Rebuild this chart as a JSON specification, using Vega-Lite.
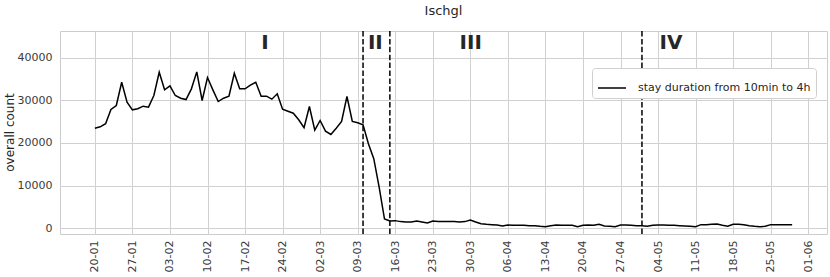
{
  "$schema": "https://vega.github.io/schema/vega-lite/v6.json",
  "width": 767,
  "height": 203,
  "autosize": {"type": "none"},
  "padding": {"left": 60, "top": 31, "right": 3, "bottom": 43},
  "background": "white",
  "title": {"text": "Ischgl", "fontSize": 13, "font": "DejaVu Sans", "fontWeight": "normal", "color": "#262626", "anchor": "middle", "offset": 12},
  "config": {
    "view": {"stroke": "#cccccc", "strokeWidth": 1},
    "axis": {"gridColor": "#d0d0d0", "gridWidth": 1, "domain": false, "ticks": false, "labelFont": "DejaVu Sans", "labelFontSize": 11, "labelColor": "#3a3a3a", "titleFont": "DejaVu Sans", "titleFontSize": 12, "titleFontWeight": "normal", "titleColor": "#262626"}
  },
  "datasets": {
    "series": [
      {"date": "2020-01-20", "count": 23460}, {"date": "2020-01-21", "count": 23780}, {"date": "2020-01-22", "count": 24490},
      {"date": "2020-01-23", "count": 27830}, {"date": "2020-01-24", "count": 28770}, {"date": "2020-01-25", "count": 34220},
      {"date": "2020-01-26", "count": 29540}, {"date": "2020-01-27", "count": 27760}, {"date": "2020-01-28", "count": 28000},
      {"date": "2020-01-29", "count": 28610}, {"date": "2020-01-30", "count": 28380}, {"date": "2020-01-31", "count": 31110},
      {"date": "2020-02-01", "count": 36560}, {"date": "2020-02-02", "count": 32440}, {"date": "2020-02-03", "count": 33370},
      {"date": "2020-02-04", "count": 31110}, {"date": "2020-02-05", "count": 30480}, {"date": "2020-02-06", "count": 30170},
      {"date": "2020-02-07", "count": 32670}, {"date": "2020-02-08", "count": 36650}, {"date": "2020-02-09", "count": 29940},
      {"date": "2020-02-10", "count": 35320}, {"date": "2020-02-11", "count": 32440}, {"date": "2020-02-12", "count": 29700},
      {"date": "2020-02-13", "count": 30480}, {"date": "2020-02-14", "count": 30950}, {"date": "2020-02-15", "count": 36330},
      {"date": "2020-02-16", "count": 32670}, {"date": "2020-02-17", "count": 32670}, {"date": "2020-02-18", "count": 33530},
      {"date": "2020-02-19", "count": 34220}, {"date": "2020-02-20", "count": 30950}, {"date": "2020-02-21", "count": 30950},
      {"date": "2020-02-22", "count": 30250}, {"date": "2020-02-23", "count": 31500}, {"date": "2020-02-24", "count": 27910},
      {"date": "2020-02-25", "count": 27440}, {"date": "2020-02-26", "count": 26970}, {"date": "2020-02-27", "count": 25420},
      {"date": "2020-02-28", "count": 23550}, {"date": "2020-02-29", "count": 28540}, {"date": "2020-03-01", "count": 22990},
      {"date": "2020-03-02", "count": 25260}, {"date": "2020-03-03", "count": 22760}, {"date": "2020-03-04", "count": 21990},
      {"date": "2020-03-05", "count": 23460}, {"date": "2020-03-06", "count": 25030}, {"date": "2020-03-07", "count": 30870},
      {"date": "2020-03-08", "count": 25030}, {"date": "2020-03-09", "count": 24720}, {"date": "2020-03-10", "count": 24250},
      {"date": "2020-03-11", "count": 19800}, {"date": "2020-03-12", "count": 16300}, {"date": "2020-03-13", "count": 9660},
      {"date": "2020-03-14", "count": 2180}, {"date": "2020-03-15", "count": 1710}, {"date": "2020-03-16", "count": 1800},
      {"date": "2020-03-17", "count": 1570}, {"date": "2020-03-18", "count": 1500}, {"date": "2020-03-19", "count": 1500},
      {"date": "2020-03-20", "count": 1710}, {"date": "2020-03-21", "count": 1500}, {"date": "2020-03-22", "count": 1240},
      {"date": "2020-03-23", "count": 1710}, {"date": "2020-03-24", "count": 1570}, {"date": "2020-03-25", "count": 1570},
      {"date": "2020-03-26", "count": 1570}, {"date": "2020-03-27", "count": 1570}, {"date": "2020-03-28", "count": 1500},
      {"date": "2020-03-29", "count": 1570}, {"date": "2020-03-30", "count": 1950}, {"date": "2020-03-31", "count": 1500},
      {"date": "2020-04-01", "count": 1090}, {"date": "2020-04-02", "count": 930}, {"date": "2020-04-03", "count": 860},
      {"date": "2020-04-04", "count": 780}, {"date": "2020-04-05", "count": 550}, {"date": "2020-04-06", "count": 780},
      {"date": "2020-04-07", "count": 700}, {"date": "2020-04-08", "count": 700}, {"date": "2020-04-09", "count": 700},
      {"date": "2020-04-10", "count": 620}, {"date": "2020-04-11", "count": 620}, {"date": "2020-04-12", "count": 470},
      {"date": "2020-04-13", "count": 390}, {"date": "2020-04-14", "count": 620}, {"date": "2020-04-15", "count": 780},
      {"date": "2020-04-16", "count": 700}, {"date": "2020-04-17", "count": 700}, {"date": "2020-04-18", "count": 700},
      {"date": "2020-04-19", "count": 390}, {"date": "2020-04-20", "count": 700}, {"date": "2020-04-21", "count": 780},
      {"date": "2020-04-22", "count": 700}, {"date": "2020-04-23", "count": 930}, {"date": "2020-04-24", "count": 550},
      {"date": "2020-04-25", "count": 470}, {"date": "2020-04-26", "count": 390}, {"date": "2020-04-27", "count": 780},
      {"date": "2020-04-28", "count": 780}, {"date": "2020-04-29", "count": 700}, {"date": "2020-04-30", "count": 620},
      {"date": "2020-05-01", "count": 620}, {"date": "2020-05-02", "count": 470}, {"date": "2020-05-03", "count": 700},
      {"date": "2020-05-04", "count": 780}, {"date": "2020-05-05", "count": 780}, {"date": "2020-05-06", "count": 700},
      {"date": "2020-05-07", "count": 700}, {"date": "2020-05-08", "count": 620}, {"date": "2020-05-09", "count": 550},
      {"date": "2020-05-10", "count": 470}, {"date": "2020-05-11", "count": 390}, {"date": "2020-05-12", "count": 860},
      {"date": "2020-05-13", "count": 860}, {"date": "2020-05-14", "count": 930}, {"date": "2020-05-15", "count": 1010},
      {"date": "2020-05-16", "count": 700}, {"date": "2020-05-17", "count": 470}, {"date": "2020-05-18", "count": 930},
      {"date": "2020-05-19", "count": 930}, {"date": "2020-05-20", "count": 860}, {"date": "2020-05-21", "count": 620},
      {"date": "2020-05-22", "count": 470}, {"date": "2020-05-23", "count": 390}, {"date": "2020-05-24", "count": 470},
      {"date": "2020-05-25", "count": 860}, {"date": "2020-05-26", "count": 860}, {"date": "2020-05-27", "count": 860},
      {"date": "2020-05-28", "count": 860}, {"date": "2020-05-29", "count": 860}
    ],
    "phases": [
      {"date": "2020-03-10"}, {"date": "2020-03-15"}, {"date": "2020-05-01"}
    ],
    "labels": [
      {"date": "2020-02-20T17:00:00Z", "label": "I", "y": 43350},
      {"date": "2020-03-12T07:00:00Z", "label": "II", "y": 43350},
      {"date": "2020-03-30T02:00:00Z", "label": "III", "y": 43350},
      {"date": "2020-05-06T10:00:00Z", "label": "IV", "y": 43350}
    ]
  },
  "encoding": {
    "x": {
      "field": "date", "type": "temporal", "title": null,
      "scale": {"type": "utc", "domain": [{"year": 2020, "month": 1, "date": 13, "hours": 12, "utc": true}, {"year": 2020, "month": 6, "date": 4, "hours": 12, "utc": true}]},
      "axis": {
        "format": "%d-%m", "labelAngle": -90, "labelPadding": 6, "labelBaseline": "middle", "labelAlign": "right",
        "values": [
          {"year": 2020, "month": 1, "date": 20, "utc": true}, {"year": 2020, "month": 1, "date": 27, "utc": true},
          {"year": 2020, "month": 2, "date": 3, "utc": true}, {"year": 2020, "month": 2, "date": 10, "utc": true},
          {"year": 2020, "month": 2, "date": 17, "utc": true}, {"year": 2020, "month": 2, "date": 24, "utc": true},
          {"year": 2020, "month": 3, "date": 2, "utc": true}, {"year": 2020, "month": 3, "date": 9, "utc": true},
          {"year": 2020, "month": 3, "date": 16, "utc": true}, {"year": 2020, "month": 3, "date": 23, "utc": true},
          {"year": 2020, "month": 3, "date": 30, "utc": true}, {"year": 2020, "month": 4, "date": 6, "utc": true},
          {"year": 2020, "month": 4, "date": 13, "utc": true}, {"year": 2020, "month": 4, "date": 20, "utc": true},
          {"year": 2020, "month": 4, "date": 27, "utc": true}, {"year": 2020, "month": 5, "date": 4, "utc": true},
          {"year": 2020, "month": 5, "date": 11, "utc": true}, {"year": 2020, "month": 5, "date": 18, "utc": true},
          {"year": 2020, "month": 5, "date": 25, "utc": true}, {"year": 2020, "month": 6, "date": 1, "utc": true}
        ]
      }
    }
  },
  "layer": [
    {
      "data": {"name": "series"},
      "transform": [{"calculate": "'stay duration from 10min to 4h'", "as": "series"}],
      "mark": {"type": "line", "strokeWidth": 1.5, "clip": true},
      "encoding": {
        "y": {
          "field": "count", "type": "quantitative", "title": "overall count",
          "scale": {"domain": [-1330, 46220], "nice": false, "zero": false},
          "axis": {"values": [0, 10000, 20000, 30000, 40000], "format": "d", "labelPadding": 8, "titleX": -51, "titleY": 101, "titleAngle": -90, "titleAlign": "center", "titleBaseline": "middle"}
        },
        "color": {
          "field": "series", "type": "nominal", "scale": {"range": ["#000000"]},
          "legend": {
            "title": null, "orient": "none", "legendX": 532, "legendY": 37,
            "symbolType": "stroke", "symbolSize": 784, "symbolStrokeWidth": 1.5,
            "labelFont": "DejaVu Sans", "labelFontSize": 11, "labelColor": "#262626", "labelOffset": 11, "labelLimit": 400,
            "fillColor": "white", "strokeColor": "#d0d0d0", "cornerRadius": 3, "padding": 5
          }
        }
      }
    },
    {
      "data": {"name": "phases"},
      "mark": {"type": "rule", "color": "#000000", "strokeWidth": 1.5, "strokeDash": [5.5, 2.4]},
      "encoding": {}
    },
    {
      "data": {"name": "labels"},
      "mark": {"type": "text", "font": "DejaVu Sans", "fontSize": 20, "fontWeight": "bold", "color": "#262626", "align": "center", "baseline": "middle"},
      "encoding": {
        "y": {"field": "y", "type": "quantitative"},
        "text": {"field": "label"}
      }
    }
  ]
}
